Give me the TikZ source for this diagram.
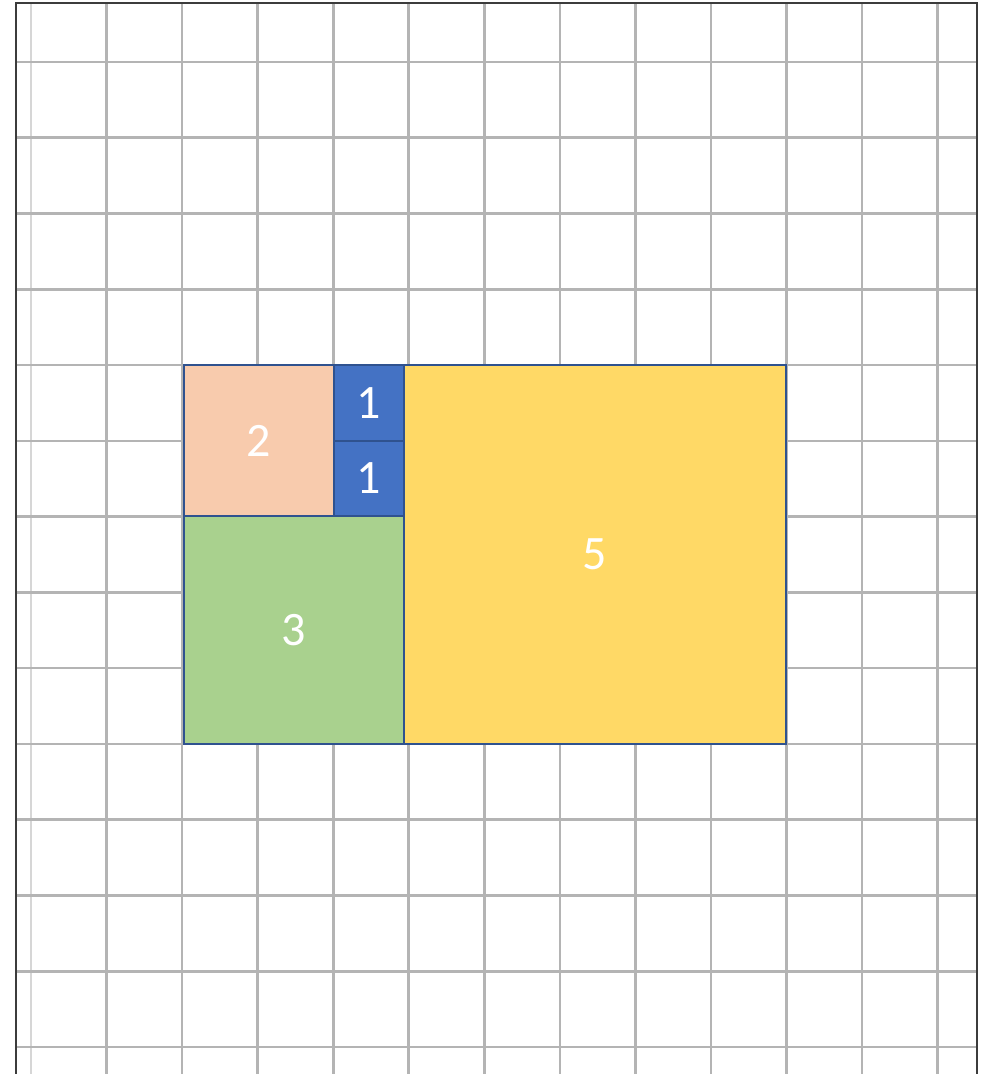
\documentclass[tikz,border=0pt]{standalone}
\usepackage{fontspec}
\setmainfont{Carlito}
\definecolor{peach}{HTML}{F8CBAD}
\definecolor{bluebox}{HTML}{4472C4}
\definecolor{greenbox}{HTML}{A9D18E}
\definecolor{yellowbox}{HTML}{FFD966}
\definecolor{edge}{HTML}{2F528F}
\definecolor{gridc}{HTML}{B4B4B4}
\definecolor{gridl}{HTML}{D6D6D6}
\definecolor{framec}{HTML}{3C3C3C}
\tikzset{
  gridline/.style={draw=gridc, line width=2.6pt},
  gridlight/.style={draw=gridl, line width=2.6pt},
  framebox/.style={draw=framec, line width=2.6pt},
  sq/.style={draw=edge, line width=2pt, inner sep=0pt, outer sep=0pt,
    text=white, font=\fontsize{48}{48}\selectfont}
}
\begin{document}
\begin{tikzpicture}[x=1pt,y=-1pt]
\useasboundingbox (0,0) rectangle (981,1074);
\fill[white] (0,0) rectangle (981,1074);
% grid
\draw[gridlight] (31,3) -- (31,1080);
\foreach \i in {1,...,12} {
  \draw[gridline] ({31+75.55*\i},3) -- ({31+75.55*\i},1080);
}
\foreach \j in {0,...,13} {
  \draw[gridline] (16,{62+75.77*\j}) -- (977,{62+75.77*\j});
}
% frame
\draw[framebox] (16,1080) -- (16,3) -- (977,3) -- (977,1080);
% squares
\node[sq, fill=yellowbox, minimum width=382pt, minimum height=379pt] (five) at (595,554.5) {5};
\node[sq, fill=greenbox, minimum width=220pt, minimum height=228pt] (three) at (294,630) {3};
\node[sq, fill=peach, minimum width=150pt, minimum height=151pt] (two) at (259,440.5) {2};
\node[sq, fill=bluebox, minimum width=70pt, minimum height=76pt] (onea) at (369,403) {1};
\node[sq, fill=bluebox, minimum width=70pt, minimum height=75pt] (oneb) at (369,478.5) {1};
\end{tikzpicture}
\end{document}
